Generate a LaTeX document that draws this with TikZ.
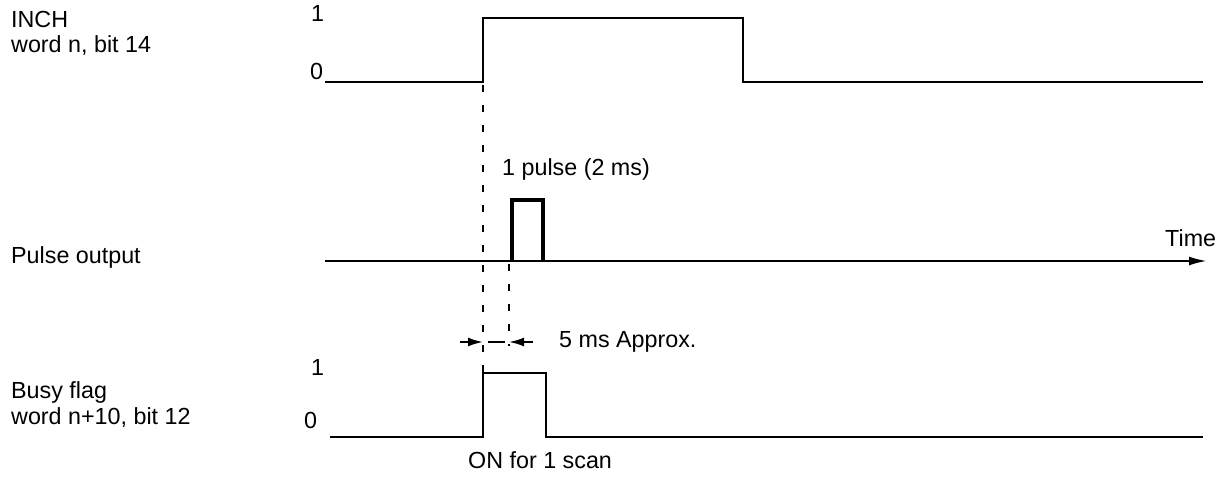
\documentclass[tikz,border=0pt]{standalone}
\usepackage{fontspec}
\setmainfont{Liberation Sans}
\usetikzlibrary{arrows.meta}
\begin{document}
\begin{tikzpicture}[x=1pt,y=-1pt,
  sig/.style={line width=2.4pt},
  thick sig/.style={line width=4pt},
  guide/.style={line width=2.2pt,dash pattern=on 7pt off 13pt},
  lbl/.style={anchor=base west,inner sep=0pt,font=\fontsize{23.3}{27}\selectfont},
  dimarrow/.style={line width=2pt,-{Latex[length=15pt,width=9pt]}}]
\useasboundingbox (0,0) rectangle (1225,478);
% labels
\node[lbl] (inch) at (11,28) {INCH};
\node[lbl] (inchw) at (11,53) {word n, bit 14};
\node[lbl] (one1) at (311,22) {1};
\node[lbl] (zero1) at (310,80) {0};
\node[lbl] (pulse) at (502,176) {1 pulse (2 ms)};
\node[lbl] (pout) at (11,263) {Pulse output};
\node[lbl] (time) at (1165,247) {Time};
\node[lbl] (approx) at (559,347) {5 ms Approx.};
\node[lbl] (one2) at (311,375) {1};
\node[lbl] (zero2) at (304,428) {0};
\node[lbl] (busy) at (11,398) {Busy flag};
\node[lbl] (busyw) at (11,424) {word n+10, bit 12};
\node[lbl] (scan) at (468,468) {ON for 1 scan};
% INCH waveform
\draw[sig] (325,82) -- (483,82) -- (483,18) -- (743,18) -- (743,82) -- (1203,82);
% Time axis
\coordinate (ax0) at (325,261);
\coordinate (ax1) at (1207,261);
\draw[line width=2.2pt,-{Latex[length=18pt,width=9pt]}] (ax0) -- (ax1);
% pulse
\draw[thick sig,line join=miter] (512,261) -- (512,200) -- (543,200) -- (543,261);
% busy flag
\draw[sig] (330,437) -- (483,437) -- (483,373) -- (546,373) -- (546,437) -- (1203,437);
% guides
\coordinate (g1a) at (483,85);
\coordinate (g1b) at (483,373);
\draw[guide] (g1a) -- (g1b);
\coordinate (g2a) at (509,264);
\coordinate (g2b) at (509,346);
\draw[guide] (g2a) -- (g2b);
% dimension arrows
\coordinate (d1s) at (460,342);
\coordinate (d1e) at (483,342);
\coordinate (d2s) at (533,342);
\coordinate (d2e) at (509,342);
\draw[dimarrow] (d1s) -- (d1e);
\draw[dimarrow] (d2s) -- (d2e);
\draw[line width=2pt] (488,342) -- (505,342);
\end{tikzpicture}
\end{document}
